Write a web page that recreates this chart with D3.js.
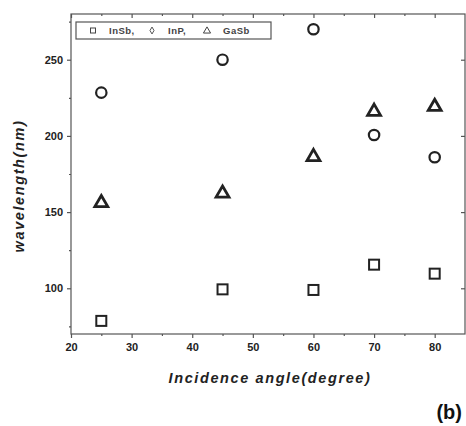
<!DOCTYPE html>
<html>
<head>
<meta charset="utf-8">
<script src="https://cdn.jsdelivr.net/npm/d3@7"></script>
<style>
  body { margin: 0; background: #fff; }
  svg text { font-family: "Liberation Sans", Arial, sans-serif; }
</style>
</head>
<body>
<svg id="chart" width="466" height="426"></svg>
<script>
// incidence angles (degree)
var angles = [25, 45, 60, 70, 80];
// wavelength (nm) per material
var inSb = [78.6, 99.3, 98.9, 115.5, 109.6];   // squares
var inP = [228.4, 250, 270, 200.6, 186];       // circles
var gaSb = [156.7, 162.9, 186.9, 216.6, 219.8]; // triangles

var xTicks = [20, 30, 40, 50, 60, 70, 80];
var yTicks = [100, 150, 200, 250];
var legendLabels = ["InSb,", "InP,", "GaSb"];

var svg = d3.select("#chart");
var pl = 71, pr = 465, pt = 14, pb = 334;

var x = d3.scaleLinear().domain([20, 85]).range([pl, pr]);
var y = d3.scaleLinear().domain([70, 280]).range([pb, pt]);

var ink = "#222";

// frame
svg.append("rect")
  .attr("x", pl).attr("y", pt)
  .attr("width", pr - pl).attr("height", pb - pt)
  .attr("fill", "none").attr("stroke", "#555").attr("stroke-width", 1.2);

var xMinor = d3.range(25, 85, 10);
var yMinor = d3.range(75, 280, 50);

// bottom axis
svg.append("g").attr("transform", "translate(0," + pb + ")")
  .call(d3.axisBottom(x).tickValues(xTicks).tickSize(4).tickPadding(5));
svg.append("g").attr("transform", "translate(0," + pb + ")")
  .call(d3.axisBottom(x).tickValues(xMinor).tickSize(2).tickFormat(""));
// top axis
svg.append("g").attr("transform", "translate(0," + pt + ")")
  .call(d3.axisBottom(x).tickValues(xTicks).tickSize(4).tickFormat(""));
svg.append("g").attr("transform", "translate(0," + pt + ")")
  .call(d3.axisBottom(x).tickValues(xMinor).tickSize(2).tickFormat(""));
// left axis
svg.append("g").attr("transform", "translate(" + pl + ",0)")
  .call(d3.axisLeft(y).tickValues(yTicks).tickSize(4).tickPadding(4));
svg.append("g").attr("transform", "translate(" + pl + ",0)")
  .call(d3.axisLeft(y).tickValues(yMinor).tickSize(2).tickFormat(""));
// right axis
svg.append("g").attr("transform", "translate(" + pr + ",0)")
  .call(d3.axisLeft(y).tickValues(yTicks).tickSize(4).tickFormat(""));

svg.selectAll(".domain").remove();
svg.selectAll(".tick line").attr("stroke", "#555").attr("stroke-width", 1.2);
svg.selectAll(".tick text")
  .attr("fill", ink).attr("font-size", 11).attr("font-weight", "bold");

// points
svg.append("g").selectAll("rect").data(angles).join("rect")
  .attr("x", function(d) { return x(d) - 5; })
  .attr("y", function(d, i) { return y(inSb[i]) - 5; })
  .attr("width", 10).attr("height", 10)
  .attr("fill", "none").attr("stroke", ink).attr("stroke-width", 2);

svg.append("g").selectAll("circle").data(angles).join("circle")
  .attr("cx", function(d) { return x(d); })
  .attr("cy", function(d, i) { return y(inP[i]); })
  .attr("r", 5.2)
  .attr("fill", "none").attr("stroke", ink).attr("stroke-width", 2.2);

var tri = d3.symbol().type(d3.symbolTriangle).size(72);
svg.append("g").selectAll("path").data(angles).join("path")
  .attr("d", tri)
  .attr("transform", function(d, i) { return "translate(" + x(d) + "," + (y(gaSb[i]) + 1) + ")"; })
  .attr("fill", "none").attr("stroke", ink).attr("stroke-width", 2.8)
  .attr("stroke-linejoin", "miter");

// legend
var lg = svg.append("g");
lg.append("rect").attr("x", 76).attr("y", 22).attr("width", 195).attr("height", 17)
  .attr("fill", "#fff").attr("stroke", "#555").attr("stroke-width", 1.2);
var lx = [93, 152, 207];
lg.append("rect").attr("x", lx[0] - 2.5).attr("y", 28).attr("width", 5).attr("height", 5)
  .attr("fill", "none").attr("stroke", "#444").attr("stroke-width", 1);
lg.append("path").attr("d", d3.symbol().type(d3.symbolDiamond).size(14))
  .attr("transform", "translate(" + lx[1] + ",30.5)")
  .attr("fill", "none").attr("stroke", "#555").attr("stroke-width", 1);
lg.append("path").attr("d", d3.symbol().type(d3.symbolTriangle).size(22))
  .attr("transform", "translate(" + lx[2] + ",31)")
  .attr("fill", "none").attr("stroke", "#444").attr("stroke-width", 1);
lg.selectAll("text.lab").data(legendLabels).join("text")
  .attr("class", "lab")
  .attr("x", function(d, i) { return lx[i] + 16; })
  .attr("y", 34)
  .attr("font-size", 9.5).attr("font-weight", "bold").attr("fill", "#444")
  .attr("letter-spacing", 0.5)
  .text(function(d) { return d; });

// axis titles
svg.append("text")
  .attr("x", 270).attr("y", 383)
  .attr("text-anchor", "middle")
  .attr("font-size", 14.5).attr("font-weight", "bold").attr("font-style", "italic")
  .attr("letter-spacing", 1.6)
  .attr("fill", ink)
  .text("Incidence angle(degree)");

svg.append("text")
  .attr("transform", "translate(24,186) rotate(-90)")
  .attr("text-anchor", "middle")
  .attr("font-size", 14.5).attr("font-weight", "bold").attr("font-style", "italic")
  .attr("letter-spacing", 1.6)
  .attr("fill", ink)
  .text("wavelength(nm)");

svg.append("text")
  .attr("x", 462).attr("y", 419)
  .attr("text-anchor", "end")
  .attr("font-size", 20).attr("font-weight", "bold")
  .attr("fill", "#111")
  .text("(b)");
</script>
</body>
</html>
